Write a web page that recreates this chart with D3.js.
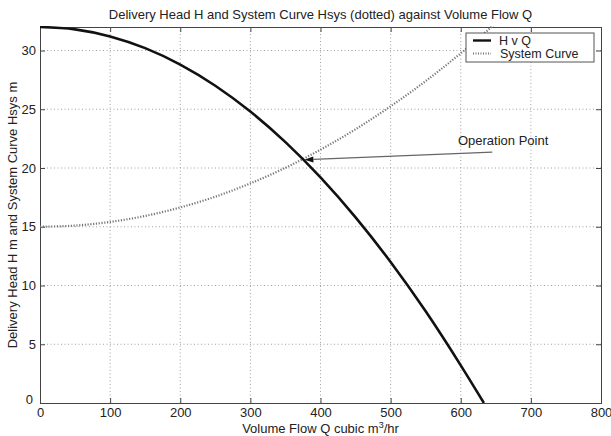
<!DOCTYPE html>
<html><head><meta charset="utf-8">
<script src="https://cdn.jsdelivr.net/npm/d3@7"></script>
<style>
body{margin:0;background:#fff;}
text{font-family:"Liberation Sans",Arial,sans-serif;fill:#222;}
</style></head><body>
<svg id="c" width="611" height="436"></svg>
<script>
const qPump = [0,50,100,150,200,250,300,350,400,450,500,550,600,633];
const hPump = [32,31.8,31.2,30.2,28.8,27.0,24.8,22.2,19.2,15.8,12.0,7.8,3.2,0.0];
const qSys = [0,50,100,150,200,250,300,350,400,450,500,550,600,650];
const hSys = [15,15.1,15.41,15.92,16.64,17.56,18.69,20.02,21.56,23.3,25.25,27.4,29.76,32.32];
const xTicks = [0,100,200,300,400,500,600,700,800];
const yTicks = [0,5,10,15,20,25,30];
const legendLabels = ["H v Q","System Curve"];
const opPoint = {label:"Operation Point", tailQ:645, tailH:21.35, headQ:377, headH:20.7, textQ:596, textH:22.0};

const svg = d3.select("#c");
const L=40,R=601,T=27,B=403;
const FS="13px";
const x = d3.scaleLinear().domain([0,800]).range([L,R]);
const y = d3.scaleLinear().domain([0,32]).range([B,T]);

svg.append("defs").append("clipPath").attr("id","clip")
  .append("rect").attr("x",L).attr("y",T-1).attr("width",R-L).attr("height",B-T+1);

// grid
const g = svg.append("g");
xTicks.slice(1,-1).forEach(t=>g.append("line").attr("x1",x(t)).attr("x2",x(t)).attr("y1",T).attr("y2",B)
  .attr("stroke","#8a8a8a").attr("stroke-width",0.8).attr("stroke-dasharray","1,2.5"));
yTicks.slice(1).forEach(t=>g.append("line").attr("x1",L).attr("x2",R).attr("y1",y(t)).attr("y2",y(t))
  .attr("stroke","#8a8a8a").attr("stroke-width",0.8).attr("stroke-dasharray","1,2.5"));

// axes
const ax = svg.append("g").attr("transform",`translate(0,${B})`)
  .call(d3.axisBottom(x).tickValues(xTicks).tickSize(-5).tickPadding(5).tickFormat(d3.format("d")));
const axT = svg.append("g").attr("transform",`translate(0,${T})`)
  .call(d3.axisTop(x).tickValues(xTicks).tickSize(-5).tickFormat(""));
const ay = svg.append("g").attr("transform",`translate(${L},0)`)
  .call(d3.axisLeft(y).tickValues(yTicks).tickSize(-5).tickPadding(4));
const ayR = svg.append("g").attr("transform",`translate(${R},0)`)
  .call(d3.axisRight(y).tickValues(yTicks).tickSize(-5).tickFormat(""));
[ax,axT,ay,ayR].forEach(a=>{
  a.select(".domain").attr("stroke","#444").attr("stroke-width",1);
  a.selectAll(".tick line").attr("stroke","#444");
  a.selectAll("text").style("font-family","'Liberation Sans',Arial,sans-serif").style("font-size",FS).attr("fill","#222");
});
// MATLAB-like 0 placement on y axis
ay.selectAll(".tick").filter(d=>d===0).select("text").attr("dy","0.05em").attr("x",-7);

// curves
const line = d3.line().x(d=>x(d[0])).y(d=>y(d[1])).curve(d3.curveMonotoneX);
svg.append("path").datum(qSys.map((q,i)=>[q,hSys[i]])).attr("clip-path","url(#clip)")
  .attr("d",line).attr("fill","none").attr("stroke","#777").attr("stroke-width",2.2).attr("stroke-dasharray","1.2,1.6");
svg.append("path").datum(qPump.map((q,i)=>[q,hPump[i]])).attr("clip-path","url(#clip)")
  .attr("d",line).attr("fill","none").attr("stroke","#111").attr("stroke-width",2.6);

// annotation
const x1=x(opPoint.tailQ), y1=y(opPoint.tailH), x2=x(opPoint.headQ), y2=y(opPoint.headH);
const ang=Math.atan2(y2-y1,x2-x1);
const hl=9, hw=3;
svg.append("line").attr("x1",x1).attr("y1",y1).attr("x2",x2-hl*Math.cos(ang)).attr("y2",y2-hl*Math.sin(ang))
  .attr("stroke","#666").attr("stroke-width",1.2);
const p=[[x2,y2],[x2-hl*Math.cos(ang)+hw*Math.sin(ang), y2-hl*Math.sin(ang)-hw*Math.cos(ang)],
         [x2-hl*Math.cos(ang)-hw*Math.sin(ang), y2-hl*Math.sin(ang)+hw*Math.cos(ang)]];
svg.append("polygon").attr("points",p.map(d=>d.join(",")).join(" ")).attr("fill","#111");
svg.append("text").attr("x",x(opPoint.textQ)).attr("y",y(opPoint.textH)).attr("font-size",FS).text(opPoint.label);

// legend
const lg = svg.append("g");
lg.append("rect").attr("x",466).attr("y",33).attr("width",128).attr("height",29)
  .attr("fill","#fff").attr("stroke","#555").attr("stroke-width",1);
lg.append("line").attr("x1",473).attr("x2",491).attr("y1",40.5).attr("y2",40.5).attr("stroke","#111").attr("stroke-width",2.4);
lg.append("line").attr("x1",473).attr("x2",491).attr("y1",53.5).attr("y2",53.5).attr("stroke","#777").attr("stroke-width",2).attr("stroke-dasharray","1,1.5");
lg.append("text").attr("x",499).attr("y",44.5).attr("font-size","12.5px").text(legendLabels[0]);
lg.append("text").attr("x",500).attr("y",57.5).attr("font-size","12.5px").text(legendLabels[1]);

// titles
svg.append("text").attr("x",(L+R)/2).attr("y",19).attr("text-anchor","middle").attr("font-size",FS)
  .text("Delivery Head H and System Curve Hsys (dotted) against Volume Flow Q");
const xl = svg.append("text").attr("x",(L+R)/2).attr("y",433).attr("text-anchor","middle").attr("font-size",FS);
xl.append("tspan").text("Volume Flow Q cubic m");
xl.append("tspan").attr("dy","-5").attr("font-size","9px").text("3");
xl.append("tspan").attr("dy","5").text("/hr");
svg.append("text").attr("transform",`translate(17,${(T+B)/2}) rotate(-90)`).attr("text-anchor","middle").attr("font-size",FS)
  .text("Delivery Head H m and System Curve Hsys m");
</script></body></html>
